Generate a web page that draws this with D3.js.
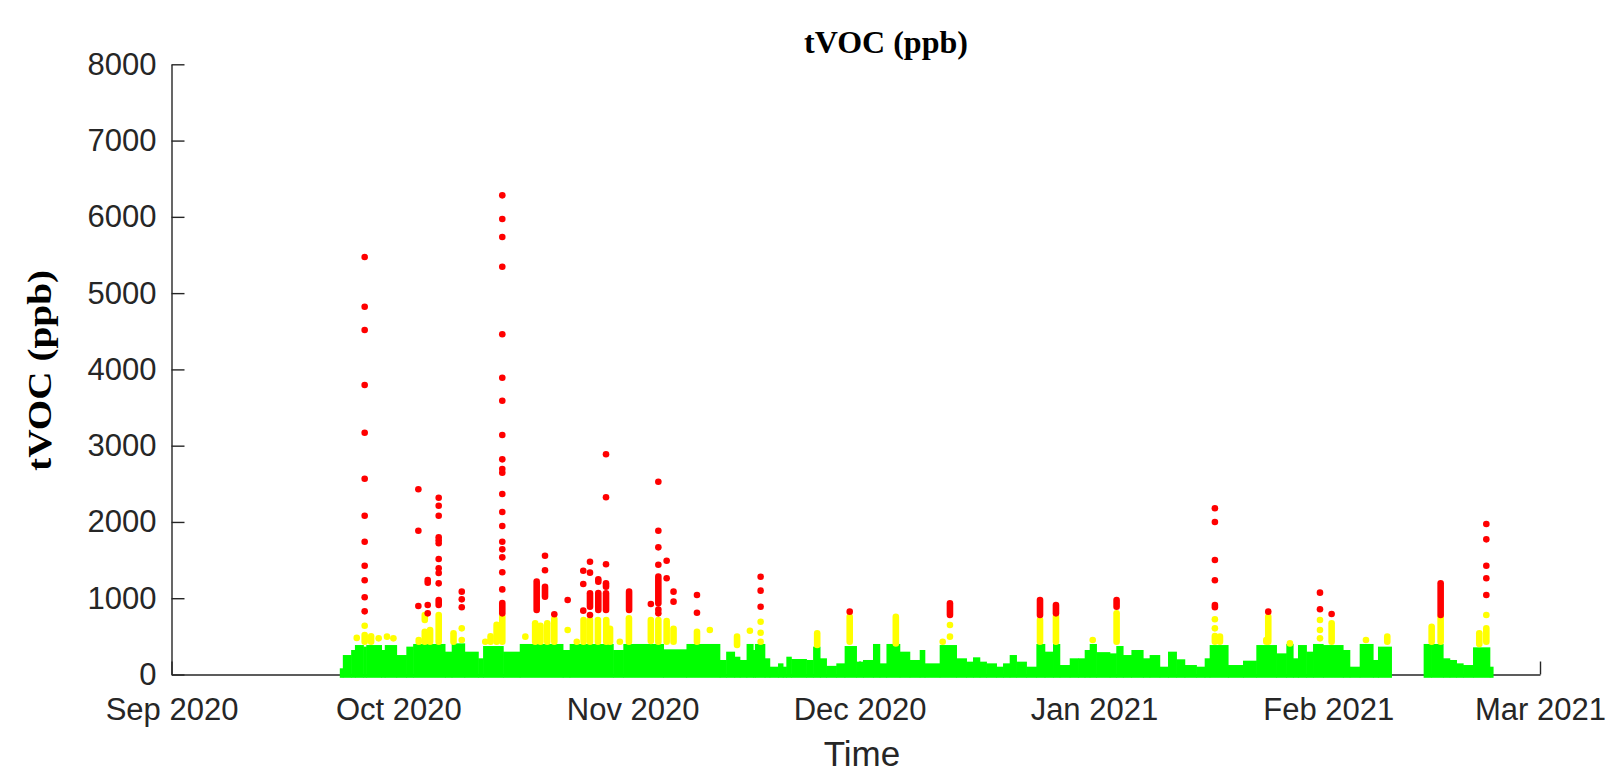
<!DOCTYPE html>
<html><head><meta charset="utf-8">
<script src="https://cdn.jsdelivr.net/npm/d3@7"></script>
<style>body{margin:0;background:#fff}svg{display:block}</style>
</head><body>
<svg id="chart" width="1614" height="773"></svg>
<script>
// ---- data (times are days since 2020-09-01 00:00 UTC, values in ppb) ----
const baseDate = Date.UTC(2020, 8, 1);
const xTickDates = ['2020-09-01','2020-10-01','2020-11-01','2020-12-01','2021-01-01','2021-02-01','2021-03-01'];
const xTickLabels = ['Sep 2020','Oct 2020','Nov 2020','Dec 2020','Jan 2021','Feb 2021','Mar 2021'];
const yTicks = [0,1000,2000,3000,4000,5000,6000,7000,8000];

// green (good) readings: [fromDay, toDay, max ppb] – dense band from 0 up to the max
const greenSegments = [
 [22.3,22.7,38],[22.7,23.8,212],[23.8,24.3,278],[24.3,25.4,343],[25.4,25.8,322],[25.8,27.8,343],
 [27.8,28.25,278],[28.25,29.8,343],[29.8,31.1,212],[31.1,32.0,322],[32.0,36.2,357],[36.2,37.1,256],
 [37.1,38.8,365],[38.8,40.6,256],[40.6,41.25,169],[41.25,43.9,330],[43.9,46.1,256],[46.1,51.8,357],
 [51.8,52.7,278],[52.7,58.45,357],[58.45,59.8,278],[59.8,65.1,357],[65.1,68.15,287],[68.15,72.55,357],
 [72.55,73.4,147],[73.4,74.5,256],[74.5,75.2,190],[75.2,76.1,147],[76.1,76.95,357],[76.95,77.2,278],
 [77.2,78.5,357],[78.5,79.15,169],[79.15,80.26,59],[80.26,80.9,103],[80.9,81.36,59],[81.36,82.0,190],
 [82.0,84.0,160],[84.0,84.9,147],[84.9,85.8,322],[85.8,86.65,169],[86.65,87.97,70],[87.97,89.07,103],
 [89.07,90.62,330],[90.62,91.5,125],[91.5,92.82,147],[92.82,93.7,357],[93.7,94.6,103],[94.6,96.35,357],
 [96.35,97.67,256],[97.67,99.0,147],[99.0,99.66,278],[99.66,101.64,103],[101.64,103.85,343],[103.85,105.17,169],
 [105.17,106.05,125],[106.05,106.93,182],[106.93,107.81,125],[107.81,109.14,103],[109.14,110.02,59],[110.02,110.9,103],
 [110.9,111.78,212],[111.78,113.1,125],[113.1,114.43,59],[114.43,115.53,357],[115.53,116.63,256],[116.63,117.51,357],
 [117.51,118.84,81],[118.84,119.94,169],[119.94,120.82,169],[120.82,121.48,278],[121.48,122.36,357],[122.36,124.13,250],
 [124.13,125.0,234],[125.0,125.88,330],[125.88,127.0,212],[127.0,128.53,278],[128.53,129.41,169],[129.41,130.73,212],
 [130.73,131.84,59],[131.84,132.94,256],[132.94,134.04,156],[134.04,135.58,81],[135.58,136.69,59],[136.69,137.35,169],
 [137.35,139.77,343],[139.77,141.76,81],[141.76,143.52,138],[143.52,146.17,343],[146.17,147.49,234],[147.49,148.37,357],
 [148.37,149.03,169],[149.03,150.13,343],[150.13,151.02,256],[151.02,152.34,357],[152.34,154.98,343],[154.98,155.87,278],
 [155.87,157.19,59],[157.19,158.95,357],[158.95,159.61,147],[159.61,161.38,322],
 [165.65,166.67,357],[166.67,168.21,357],[168.21,169.09,169],[169.09,169.98,147],[169.98,170.86,103],[170.86,172.18,81],
 [172.18,174.39,313],[174.39,174.82,59]
];

// yellow (moderate) readings: [day, low ppb, high ppb] – a single reading when low == high
const yellowColumns = [
 [24.5,480,480],[25.55,430,518],[25.55,640,640],[26.4,430,500],[27.4,474,474],[28.5,496,496],[29.35,474,474],
 [32.7,430,452],[33.5,430,560],[33.5,714,780],[34.2,430,583],[35.34,430,780],[37.3,430,540],[38.39,452,452],[38.39,605,605],
 [41.5,430,430],[42.2,430,500],[43.0,430,650],[43.75,430,758],[46.8,496,496],[48.1,430,671],[48.8,430,640],[49.7,430,671],
 [50.63,430,728],[52.4,583,583],[53.6,430,430],[54.5,430,714],[55.35,430,714],[56.4,430,714],[57.5,430,714],[58.0,430,600],
 [59.3,430,430],[60.5,430,736],[63.4,440,714],[64.39,430,714],[65.49,430,700],[66.4,430,600],[69.5,430,560],[71.2,583,583],
 [74.8,387,496],[76.5,574,574],[77.92,430,430],[77.92,548,548],[77.92,692,692],[85.4,387,539],[89.7,430,758],[95.8,408,758],
 [102.0,430,430],[102.96,496,496],[102.96,649,649],[114.87,430,714],[116.98,430,758],[121.84,452,452],[125.0,430,802],
 [138.0,724,724],[138.0,605,605],[138.0,430,505],[138.67,430,496],[144.8,430,452],[145.06,430,758],[147.93,408,408],
 [151.9,714,714],[151.9,583,583],[151.9,474,474],[153.44,430,671],[157.98,452,452],[160.8,430,496],[166.67,430,627],
 [167.86,430,758],[172.97,400,540],[173.9,780,780],[173.9,430,605]
];

// red (poor) single readings: [day, ppb]
const redPoints = [
 [25.55,5473],[25.55,4822],[25.55,4516],[25.55,3795],[25.55,3170],[25.55,2567],[25.55,2082],[25.55,1741],[25.55,1426],[25.55,1235],[25.55,1012],[25.55,828],
 [32.65,2428],[32.65,1885],[32.65,898],
 [33.89,1239],[33.89,1204],[33.89,911],[33.89,802],
 [35.34,2318],[35.34,2213],[35.34,2082],[35.34,1800],[35.34,1760],[35.34,1720],[35.34,1514],[35.34,1392],[35.34,1330],[35.34,1195],
 [38.39,1086],[38.39,985],[38.39,881],
 [43.75,6282],[43.75,5971],[43.75,5735],[43.75,5346],[43.75,4460],[43.75,3891],[43.75,3589],[43.75,3140],[43.75,2821],[43.75,2694],
 [43.75,2646],[43.75,2366],[43.75,2130],[43.75,1947],[43.75,1741],[43.75,1641],[43.75,1536],[43.75,1340],[43.75,1116],
 [49.4,1557],[49.4,1366],[50.63,789],[52.4,977],
 [54.46,1361],[54.46,1186],[54.46,837],
 [55.35,1479],[55.35,1335],[55.35,780],
 [56.45,1248],[56.45,1217],
 [57.47,2887],[57.47,2323],[57.47,1445],
 [63.4,924],
 [64.39,2528],[64.39,1885],[64.39,1667],[64.39,1439],[64.39,850],[64.39,802],
 [65.49,1492],[65.49,1261],[66.4,1086],[66.4,955],[69.5,1042],[69.5,810],
 [77.92,1282],[77.92,1099],[77.92,889],
 [89.7,824],
 [138.0,2179],[138.0,1999],[138.0,1501],[138.0,1235],
 [145.06,824],[151.9,1073],[151.9,855],[153.44,793],
 [173.9,1973],[173.9,1772],[173.9,1426],[173.9,1261],[173.9,1042]
];

// red (poor) dense runs of readings: [day, low ppb, high ppb]
const redColumns = [
 [35.34,911,977],[43.75,802,937],[48.3,846,1217],[49.4,1020,1151],[55.35,889,1064],[56.45,846,1068],
 [57.47,1151,1195],[57.47,846,1064],[60.52,846,1086],[64.39,933,1283],[102.96,780,933],[114.87,780,977],
 [116.98,802,911],[125.0,889,977],[138.0,881,911],[167.86,780,1195]
];

// ---- drawing ----
(function draw() {
  const svg = d3.select('#chart');
  const W = 1614, H = 773;
  const pLeft = 171.5, pRight = 1540, pTop = 64.3, pBottom = 674.5;
  const r = 3.3;
  const axisColor = '#262626';
  const toDate = d => new Date(baseDate + d * 864e5);

  const x = d3.scaleUtc()
    .domain([new Date(Date.UTC(2020,8,1)), new Date(Date.UTC(2021,2,1))])
    .range([pLeft, pRight]);
  const y = d3.scaleLinear().domain([0, 8000]).range([pBottom, pTop]);

  svg.append('rect').attr('width', W).attr('height', H).attr('fill', '#fff');

  const tickDates = xTickDates.map(s => new Date(s + 'T00:00:00Z'));
  const xAxis = d3.axisBottom(x).tickValues(tickDates)
    .tickFormat((d, i) => xTickLabels[i]).tickSizeInner(-13).tickSizeOuter(0).tickPadding(0);
  const gx = svg.append('g').attr('transform', `translate(0,${pBottom})`).call(xAxis);
  gx.selectAll('text').attr('y', 45).attr('dy', null);

  const yAxis = d3.axisLeft(y).tickValues(yTicks).tickFormat(d3.format('d'))
    .tickSizeInner(-13).tickSizeOuter(0).tickPadding(15);
  const gy = svg.append('g').attr('transform', `translate(${pLeft},0)`).call(yAxis);

  [gx, gy].forEach(g => {
    g.select('.domain').attr('stroke', axisColor).attr('stroke-width', 1.4);
    g.selectAll('.tick line').attr('stroke', axisColor).attr('stroke-width', 1.4);
    g.selectAll('text').attr('fill', axisColor)
      .style('font-family', '"Liberation Sans", Arial, Helvetica, sans-serif')
      .style('font-size', '31px');
  });
  gy.selectAll('text').attr('dy', '0.32em');

  const plot = svg.append('g');

  plot.selectAll('rect.green').data(greenSegments).join('rect')
    .attr('class', 'green')
    .attr('x', d => x(toDate(d[0])) - 0.3)
    .attr('width', d => x(toDate(d[1])) - x(toDate(d[0])) + 0.6)
    .attr('y', d => y(d[2]) - r)
    .attr('height', d => y(0) - y(d[2]) + 2 * r)
    .attr('fill', '#00ff00');

  function columns(cls, data, color) {
    plot.selectAll('rect.' + cls).data(data).join('rect')
      .attr('class', cls)
      .attr('x', d => x(toDate(d[0])) - r)
      .attr('width', 2 * r)
      .attr('y', d => y(d[2]) - r)
      .attr('height', d => y(d[1]) - y(d[2]) + 2 * r)
      .attr('rx', r).attr('ry', r)
      .attr('fill', color);
  }
  columns('yellow', yellowColumns, '#ffff00');
  columns('redcol', redColumns, '#ff0000');

  plot.selectAll('circle.red').data(redPoints).join('circle')
    .attr('class', 'red')
    .attr('cx', d => x(toDate(d[0])))
    .attr('cy', d => y(d[1]))
    .attr('r', r)
    .attr('fill', '#ff0000');

  svg.append('text').attr('x', 886).attr('y', 53)
    .attr('text-anchor', 'middle').attr('fill', '#000')
    .style('font-family', '"Liberation Serif", "Times New Roman", serif')
    .style('font-weight', 'bold').style('font-size', '32px')
    .text('tVOC (ppb)');

  svg.append('text').attr('transform', `translate(51,${(pTop + pBottom) / 2 + 1}) rotate(-90)`)
    .attr('text-anchor', 'middle').attr('fill', '#000')
    .attr('textLength', 201).attr('lengthAdjust', 'spacingAndGlyphs')
    .style('font-family', '"Liberation Serif", "Times New Roman", serif')
    .style('font-weight', 'bold').style('font-size', '34px')
    .text('tVOC (ppb)');

  svg.append('text').attr('x', 862).attr('y', 766)
    .attr('text-anchor', 'middle').attr('fill', axisColor)
    .style('font-family', '"Liberation Sans", Arial, Helvetica, sans-serif')
    .style('font-size', '35px')
    .text('Time');
})();
</script>
</body></html>
